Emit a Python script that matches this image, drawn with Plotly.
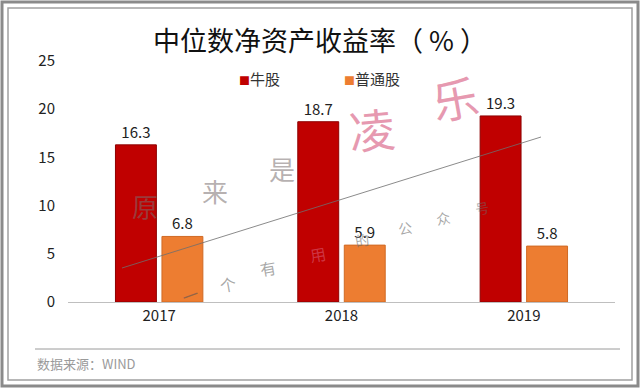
import plotly.graph_objects as go

years = ["2017", "2018", "2019"]
bull = [16.3, 18.7, 19.3]
normal = [6.8, 5.9, 5.8]
series_names = ["牛股", "普通股"]
series_colors = ["#C00000", "#ED7D31"]
title_text = "中位数净资产收益率（ % ）"
source_text = "数据来源：WIND"

FONT = "Microsoft YaHei, Noto Sans CJK SC, sans-serif"

L, R, T, B = 68, 25, 61, 86
W, H = 640, 388
PW, PH = W - L - R, H - T - B

def px(x):
    return (x - L) / PW

def py(y):
    return (H - B - y) / PH

fig = go.Figure()
fig.add_trace(go.Bar(
    x=years, y=bull, name=series_names[0], showlegend=False,
    marker=dict(color=series_colors[0], line=dict(color="#8E0000", width=1)),
    text=[f"{v:.1f}" for v in bull], textposition="outside",
    textfont=dict(size=15, color="#222222"), cliponaxis=False,
))
fig.add_trace(go.Bar(
    x=years, y=normal, name=series_names[1], showlegend=False,
    marker=dict(color=series_colors[1], line=dict(color="#D06A24", width=1)),
    text=[f"{v:.1f}" for v in normal], textposition="outside",
    textfont=dict(size=15, color="#222222"), cliponaxis=False,
))

shapes = []
# outer double frame
shapes.append(dict(type="rect", xref="paper", yref="paper",
                   x0=px(2), x1=px(638), y0=py(386), y1=py(2),
                   line=dict(color="#8a8a8a", width=3)))
shapes.append(dict(type="rect", xref="paper", yref="paper",
                   x0=px(8), x1=px(632), y0=py(380), y1=py(8),
                   line=dict(color="#a0a0a0", width=1.5)))
# footer rule
shapes.append(dict(type="line", xref="paper", yref="paper",
                   x0=px(35), x1=px(620), y0=py(349), y1=py(349),
                   line=dict(color="#9a9a9a", width=1)))
# watermark diagonal line
shapes.append(dict(type="line", xref="paper", yref="paper",
                   x0=px(122), x1=px(541), y0=py(268), y1=py(137),
                   line=dict(color="rgba(110,110,110,0.8)", width=1), layer="above"))

annotations = [
    dict(text=source_text, xref="paper", yref="paper", x=px(35), y=py(363),
         xanchor="left", yanchor="middle", showarrow=False,
         font=dict(size=13, color="#9a9a9a", family=FONT)),
]
# legend as text items
legend_pos = [237, 342]
for name, color, lx in zip(series_names, series_colors, legend_pos):
    annotations.append(dict(
        text=f"<span style='color:{color};font-size:11px'>■</span>{name}",
        xref="paper", yref="paper", x=px(lx), y=py(78),
        xanchor="left", yanchor="middle", showarrow=False,
        font=dict(size=15, color="#333333", family=FONT)))

# watermark characters
wm = [
    ("凌", 372, 128, 46, "rgba(222,120,150,0.75)", -5),
    ("乐", 455, 97, 46, "rgba(222,120,150,0.75)", -10),
    ("原", 145, 205, 26, "rgba(120,110,110,0.55)", 0),
    ("来", 215, 190, 26, "rgba(120,110,110,0.55)", 0),
    ("是", 282, 168, 26, "rgba(120,110,110,0.55)", 0),
    ("一", 190, 295, 16, "rgba(110,90,80,0.7)", -20),
    ("个", 228, 284, 16, "rgba(110,110,110,0.6)", -10),
    ("有", 268, 268, 16, "rgba(110,110,110,0.6)", -10),
    ("用", 318, 254, 16, "rgba(222,120,150,0.45)", -10),
    ("的", 362, 240, 14, "rgba(110,110,110,0.6)", -10),
    ("公", 405, 228, 14, "rgba(110,110,110,0.6)", -10),
    ("众", 443, 218, 14, "rgba(110,110,110,0.6)", -10),
    ("号", 482, 208, 14, "rgba(110,110,110,0.5)", -10),
]
for ch, x, y, s, c, a in wm:
    annotations.append(dict(text=ch, xref="paper", yref="paper", x=px(x), y=py(y),
                            xanchor="center", yanchor="middle", showarrow=False,
                            textangle=a, font=dict(size=s, color=c, family=FONT)))

fig.update_layout(
    width=W, height=H,
    margin=dict(l=L, r=R, t=T, b=B),
    paper_bgcolor="white", plot_bgcolor="white",
    font=dict(family=FONT, size=15, color="#222222"),
    title=dict(text=title_text, x=px(320), xref="paper", xanchor="center",
               y=1 - 42 / H, yanchor="middle",
               font=dict(size=27, color="#111111", family=FONT)),
    barmode="group", bargap=0.49, bargroupgap=0.12,
    xaxis=dict(showline=True, linecolor="#bfbfbf", linewidth=1, ticks="",
               tickfont=dict(size=15, color="#222222"), showgrid=False),
    yaxis=dict(range=[0, 25], dtick=5, showgrid=False, zeroline=False, showline=False,
               ticks="", tickfont=dict(size=15, color="#222222"), ticklabelstandoff=12),
    shapes=shapes, annotations=annotations,
)

fig.write_html("out.html", config={"displayModeBar": False},
               post_script="document.body.style.margin='0';")
